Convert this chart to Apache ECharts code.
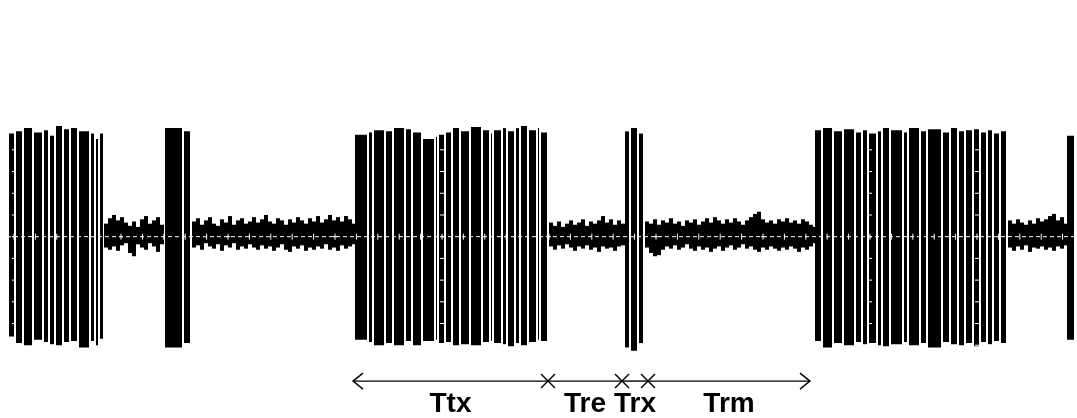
<!DOCTYPE html>
<html>
<head>
<meta charset="utf-8">
<script src="https://cdn.jsdelivr.net/npm/echarts@6/dist/echarts.min.js"></script>
<style>
html,body{margin:0;padding:0;background:#fff;}
#chart{width:1077px;height:418px;}
</style>
</head>
<body>
<div id="chart"></div>
<script>
// Burst blocks: [tStart, tEnd, upper amplitude, lower amplitude] (time in samples, amplitude normalised)
const burst1 = [[9,14,0.95,-0.92],[16,22,0.97,-0.98],[24,32,1.0,-1.0],[34,42,0.96,-0.95],[44,48,0.98,-0.97],[50,54,0.93,-0.99],[56,62,1.02,-1.0],[64,69,0.99,-0.97],[71,77,1.0,-0.96],[79,89,0.97,-1.02],[91,94,0.95,-0.96],[96,98,0.9,-1.0],[100,103,0.95,-0.94]];
const burst2 = [[165,182,1.0,-1.02],[184,190,0.97,-0.98]];
const burst3 = [[355,367,0.94,-0.95],[369,372,0.96,-0.97],[374,384,0.98,-1.0],[386,392,0.97,-0.98],[394,404,1.0,-1.0],[406,411,0.99,-0.96],[413,421,0.96,-1.0],[423,434,0.9,-0.96],[436,437,0.92,-0.95],[439,444,0.94,-0.98],[446,451,0.96,-0.97],[453,459,1.0,-1.0],[461,469,0.97,-0.99],[471,481,1.01,-1.0],[483,489,0.98,-0.97],[491,492,0.95,-0.96],[494,501,0.98,-0.98],[503,506,1.0,-0.99],[508,514,0.97,-1.01],[516,519,1.0,-0.98],[521,527,1.02,-1.0],[529,536,0.98,-0.97],[538,539,1.0,-0.95],[541,547,0.96,-0.96]];
const burst4 = [[625,629,0.97,-1.02],[631,637,1.0,-1.05],[639,643,0.95,-0.98]];
const burst5 = [[815,821,0.98,-0.96],[823,832,1.0,-1.02],[834,842,0.97,-0.98],[844,854,0.99,-1.0],[856,861,0.96,-0.97],[863,867,0.98,-0.99],[869,876,0.95,-0.98],[878,881,0.97,-1.0],[883,889,1.0,-1.01],[891,902,0.98,-0.99],[904,907,0.96,-0.97],[909,919,1.0,-1.0],[921,926,0.97,-0.98],[928,941,0.99,-1.02],[943,949,0.96,-0.97],[951,957,1.0,-0.99],[959,964,0.97,-1.0],[966,972,0.98,-0.98],[974,979,0.99,-1.01],[981,986,0.96,-0.97],[988,992,0.98,-0.99],[994,999,0.95,-0.96],[1001,1006,0.97,-0.98]];
const burst6 = [[1067,1074,0.93,-0.95]];

// Noise samples between bursts: [t, upper, lower]
const noiseA = [[104,0.12,-0.10],[108,0.17,-0.12],[112,0.20,-0.09],[116,0.15,-0.13],[120,0.18,-0.08],[124,0.13,-0.06],[128,0.10,-0.15],[132,0.14,-0.18],[136,0.09,-0.07],[140,0.16,-0.10],[144,0.19,-0.12],[148,0.12,-0.06],[152,0.15,-0.09],[156,0.18,-0.14],[160,0.11,-0.07]];
const noiseB = [[192,0.14,-0.10],[196,0.17,-0.08],[200,0.11,-0.12],[204,0.15,-0.06],[208,0.18,-0.09],[212,0.12,-0.11],[216,0.10,-0.07],[220,0.16,-0.13],[224,0.13,-0.08],[228,0.19,-0.10],[232,0.11,-0.06],[236,0.15,-0.12],[240,0.17,-0.09],[244,0.12,-0.11],[248,0.14,-0.07],[252,0.18,-0.10],[256,0.13,-0.12],[260,0.16,-0.08],[264,0.20,-0.11],[268,0.14,-0.09],[272,0.12,-0.13],[276,0.17,-0.10],[280,0.15,-0.07],[284,0.11,-0.12],[288,0.16,-0.14],[292,0.13,-0.09],[296,0.18,-0.11],[300,0.15,-0.08],[304,0.12,-0.13],[308,0.17,-0.10],[312,0.14,-0.12],[316,0.19,-0.09],[320,0.13,-0.11],[324,0.16,-0.07],[328,0.20,-0.12],[332,0.15,-0.10],[336,0.18,-0.13],[340,0.14,-0.08],[344,0.19,-0.11],[348,0.16,-0.09],[352,0.12,-0.07]];
const noiseC = [[549,0.13,-0.09],[553,0.10,-0.12],[557,0.14,-0.08],[561,0.09,-0.11],[565,0.12,-0.07],[569,0.15,-0.10],[573,0.11,-0.13],[577,0.13,-0.09],[581,0.16,-0.11],[585,0.10,-0.08],[589,0.14,-0.12],[593,0.12,-0.10],[597,0.15,-0.14],[601,0.19,-0.09],[605,0.13,-0.11],[609,0.16,-0.10],[613,0.11,-0.13],[617,0.15,-0.09],[621,0.12,-0.08]];
const noiseD = [[645,0.14,-0.10],[649,0.12,-0.15],[653,0.16,-0.18],[657,0.11,-0.17],[661,0.15,-0.12],[665,0.13,-0.09],[669,0.17,-0.11],[673,0.12,-0.08],[677,0.14,-0.12],[681,0.10,-0.10],[685,0.15,-0.07],[689,0.13,-0.11],[693,0.16,-0.13],[697,0.11,-0.09],[701,0.14,-0.12],[705,0.17,-0.10],[709,0.13,-0.14],[713,0.18,-0.11],[717,0.15,-0.09],[721,0.12,-0.13],[725,0.16,-0.10],[729,0.13,-0.08],[733,0.17,-0.12],[737,0.14,-0.10],[741,0.11,-0.07],[745,0.15,-0.11],[749,0.18,-0.09],[753,0.21,-0.12],[757,0.23,-0.14],[761,0.16,-0.10],[765,0.13,-0.12],[769,0.15,-0.09],[773,0.12,-0.11],[777,0.16,-0.13],[781,0.14,-0.10],[785,0.17,-0.12],[789,0.13,-0.09],[793,0.15,-0.11],[797,0.12,-0.14],[801,0.16,-0.10],[805,0.14,-0.12],[809,0.11,-0.09],[813,0.09,-0.06]];
const noiseE = [[1008,0.15,-0.10],[1012,0.12,-0.13],[1016,0.16,-0.09],[1020,0.13,-0.12],[1024,0.11,-0.08],[1028,0.15,-0.14],[1032,0.12,-0.10],[1036,0.17,-0.11],[1040,0.14,-0.09],[1044,0.16,-0.12],[1048,0.19,-0.10],[1052,0.21,-0.13],[1056,0.15,-0.09],[1060,0.18,-0.11],[1064,0.12,-0.08]];

// Timing phases (boundaries in samples) and their labels
const phaseBounds = [353, 548, 622, 648, 810];
const phaseLabels = ['Ttx', 'Tre', 'Trx', 'Trm'];

// Layout constants
const arrowLevel = -1.33;
const labelLevel = -1.545;
const gratOrigin = 14, gratDiv = 107;

const bursts = [].concat(burst1, burst2, burst3, burst4, burst5, burst6);
const noise = [].concat(noiseA, noiseB, noiseC, noiseD, noiseE);
const phaseData = phaseLabels.map((l, i) => [phaseBounds[i], phaseBounds[i + 1], i]);
const gratMajor = [];
for (let x = gratOrigin; x < 1077; x += gratDiv) gratMajor.push([x]);
const gratMinor = [];
for (let x = gratOrigin; x < 1077; x += gratDiv / 5) gratMinor.push([x]);

const chart = echarts.init(document.getElementById('chart'), null, {renderer: 'canvas'});

function renderBlock(params, api) {
  const p0 = api.coord([api.value(0), api.value(2)]);
  const p1 = api.coord([api.value(1), api.value(3)]);
  return {type: 'rect', shape: {x: p0[0], y: p0[1], width: p1[0] - p0[0], height: p1[1] - p0[1]}, style: {fill: '#000'}};
}
function renderNoise(params, api) {
  const p0 = api.coord([api.value(0), api.value(1)]);
  const p1 = api.coord([api.value(0) + 4, api.value(2)]);
  return {type: 'rect', shape: {x: p0[0], y: p0[1], width: p1[0] - p0[0], height: p1[1] - p0[1]}, style: {fill: '#000'}};
}
function renderMajor(params, api) {
  const children = [];
  for (let k = -5; k <= 5; k++) {
    const p = api.coord([api.value(0), k * 0.2]);
    children.push({type: 'line', shape: {x1: p[0] - 2, y1: p[1], x2: p[0] + 2, y2: p[1]}, style: {stroke: '#fff', lineWidth: 1}});
  }
  return {type: 'group', children: children};
}
function renderMinor(params, api) {
  const p = api.coord([api.value(0), 0]);
  return {type: 'line', shape: {x1: p[0], y1: p[1] - 3, x2: p[0], y2: p[1] + 3}, style: {stroke: '#fff', lineWidth: 1}};
}
function renderPhase(params, api) {
  const i = api.value(2);
  const a = api.coord([api.value(0), arrowLevel]);
  const b = api.coord([api.value(1), arrowLevel]);
  const lab = api.coord([(api.value(0) + api.value(1)) / 2, labelLevel]);
  const st = {stroke: '#000', lineWidth: 1.4, fill: null};
  const children = [{type: 'line', shape: {x1: a[0], y1: a[1], x2: b[0], y2: b[1]}, style: st}];
  const s = 7;
  function cross(p) {
    children.push({type: 'line', shape: {x1: p[0] - s, y1: p[1] - s, x2: p[0] + s, y2: p[1] + s}, style: st});
    children.push({type: 'line', shape: {x1: p[0] - s, y1: p[1] + s, x2: p[0] + s, y2: p[1] - s}, style: st});
  }
  if (i === 0) {
    children.push({type: 'polyline', shape: {points: [[a[0] + 10, a[1] - 8], [a[0], a[1]], [a[0] + 10, a[1] + 8]]}, style: st});
  } else {
    cross(a);
  }
  if (i === phaseLabels.length - 1) {
    children.push({type: 'polyline', shape: {points: [[b[0] - 10, b[1] - 8], [b[0], b[1]], [b[0] - 10, b[1] + 8]]}, style: st});
  }
  children.push({type: 'text', x: lab[0], y: lab[1], style: {text: phaseLabels[i], fill: '#000', font: 'bold 28px "Liberation Sans", Arial, sans-serif', align: 'center', verticalAlign: 'middle'}});
  return {type: 'group', children: children};
}

chart.setOption({
  animation: false,
  backgroundColor: '#fff',
  grid: {left: 0, right: 0, top: 0, bottom: 0},
  xAxis: {type: 'value', min: 0, max: 1077, show: false},
  yAxis: {type: 'value', min: -1.67, max: 2.18, show: false},
  series: [
    {type: 'custom', name: 'bursts', data: bursts, renderItem: renderBlock, z: 2},
    {type: 'custom', name: 'noise', data: noise, renderItem: renderNoise, z: 2},
    {type: 'line', name: 'centre', data: [[0, 0], [1077, 0]], symbol: 'none', z: 5,
     lineStyle: {color: '#fff', width: 1, type: [4, 3]}},
    {type: 'custom', name: 'gratMajor', data: gratMajor, renderItem: renderMajor, z: 6},
    {type: 'custom', name: 'gratMinor', data: gratMinor, renderItem: renderMinor, z: 6},
    {type: 'custom', name: 'phases', data: phaseData, renderItem: renderPhase, z: 7}
  ]
});
</script>
</body>
</html>
